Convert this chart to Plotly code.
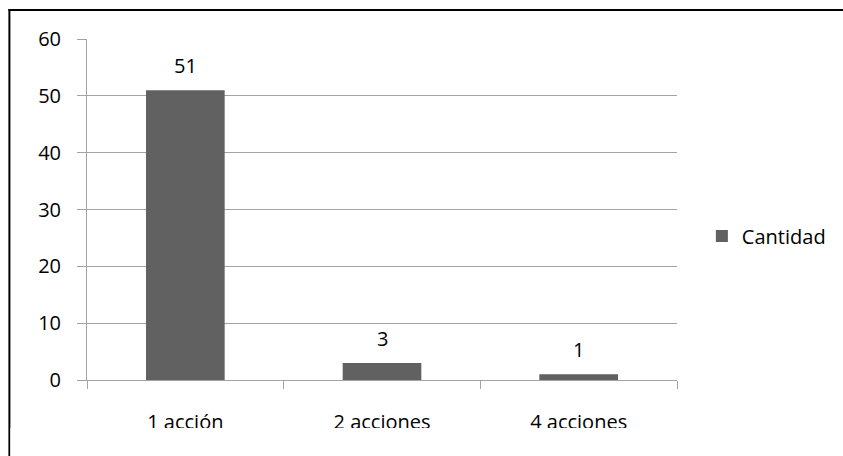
import plotly.graph_objects as go

categories = ["1 acción", "2 acciones", "4 acciones"]
cantidad = [51, 3, 1]
y_ticks = [0, 10, 20, 30, 40, 50, 60]
series_name = "Cantidad"

W, H = 843, 456
PL, PR, PT, PB = 87, 680, 39, 380  # plot area in pixels


def px_x(px):
    return (px - PL) / (PR - PL)


def px_y(py):
    return (PB - py) / (PB - PT)


FONT = "Open Sans"
FS = 20
BAR = "#616161"
GRID = "#a3a3a3"

fig = go.Figure()
fig.add_trace(go.Bar(
    x=categories, y=cantidad, name=series_name,
    marker=dict(color=BAR, line=dict(width=0)),
    showlegend=True,
))

# value labels above bars
for c, v in zip(categories, cantidad):
    fig.add_annotation(x=c, y=v, text=str(v), showarrow=False,
                       yanchor="bottom", yshift=9,
                       font=dict(family=FONT, size=FS, color="#000000"))

shapes = [
    # outer frame (left and top edges)
    dict(type="rect", xref="paper", yref="paper", layer="above",
         x0=px_x(8), x1=px_x(10), y0=px_y(H + 5), y1=px_y(9),
         fillcolor="#000000", line=dict(width=0)),
    dict(type="rect", xref="paper", yref="paper", layer="above",
         x0=px_x(8), x1=px_x(W + 5), y0=px_y(11), y1=px_y(9),
         fillcolor="#000000", line=dict(width=0)),
    # page edge below the category labels
    dict(type="rect", xref="paper", yref="paper", layer="above",
         x0=px_x(10), x1=px_x(W + 5), y0=px_y(H + 5), y1=px_y(428),
         fillcolor="#ffffff", line=dict(width=0)),
]

fig.update_layout(
    width=W, height=H,
    margin=dict(l=PL, r=W - PR, t=PT, b=H - PB, pad=0),
    paper_bgcolor="#ffffff", plot_bgcolor="#ffffff",
    font=dict(family=FONT, size=FS, color="#000000"),
    bargap=0.6,
    shapes=shapes,
    showlegend=True,
    legend=dict(x=px_x(705), y=px_y(236), xanchor="left", yanchor="middle",
                font=dict(family=FONT, size=FS, color="#000000"),
                itemwidth=30, bgcolor="rgba(0,0,0,0)"),
    xaxis=dict(
        showline=True, linecolor=GRID, linewidth=1,
        ticks="outside", tickson="boundaries", ticklen=8, tickcolor=GRID,
        showgrid=False, ticklabelstandoff=24,
        tickfont=dict(family=FONT, size=FS, color="#000000"),
    ),
    yaxis=dict(
        range=[0, 60], tickvals=y_ticks,
        showline=True, linecolor=GRID, linewidth=1,
        ticks="outside", ticklen=9, tickcolor=GRID,
        showgrid=True, gridcolor=GRID, gridwidth=1,
        zeroline=False, ticklabelstandoff=12,
        tickfont=dict(family=FONT, size=FS, color="#000000"),
    ),
)

fig.write_html("out.html")
